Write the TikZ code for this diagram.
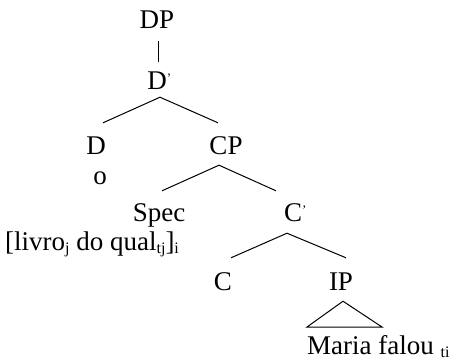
\documentclass[tikz,border=0pt]{standalone}
\usepackage{fontspec}
\setmainfont{Liberation Serif}
\usepackage{tikz}
\usetikzlibrary{positioning}

% bar mark and small index
\newcommand\barmark{\rlap{\raisebox{0.5ex}{\fontsize{13}{13}\selectfont ’}}}
\newcommand\lowidx[1]{\raisebox{-0.3ex}{\fontsize{16}{16}\selectfont #1}}

\begin{document}
\begin{tikzpicture}[x=1pt, y=-1pt,
	cat/.style={anchor=base, inner sep=0pt, text height=16pt, text depth=0pt,
		font=\fontsize{27}{31}\selectfont},
	phrase/.style={cat, anchor=base west},
	branch/.style={line width=1pt}]
	% page
	\useasboundingbox (0,0) rectangle (457,360);

	% the categories
	\node[cat] (DP) at (157,28) {DP};
	\node[cat] (Dbar) at (157,89) {D\barmark};
	\node[cat] (D) at (96,154) {D};
	\node[cat] (o) at (100,184) {o};
	\node[cat] (CP) at (226,154) {CP};
	\node[cat] (Spec) at (159,221) {Spec};
	\node[phrase] (spec-words) at (5,250) {[livro\lowidx{j} do qual\lowidx{tj}]\lowidx{i}};
	\node[cat] (Cbar) at (293,221) {C\barmark};
	\node[cat] (C) at (223,290) {C};
	\node[cat] (IP) at (341,290) {IP};
	\node[phrase] (ip-words) at (307,354) {Maria falou \lowidx{ti}};

	% the branches
	\draw[branch] ([shift={(1,13)}]DP.south) -- ([shift={(1,-11)}]Dbar.north);
	\draw[branch] ([shift={(7,-15)}]D.north) -- ([shift={(3,8)}]Dbar.south)
		-- ([shift={(-8,-15)}]CP.north);
	\draw[branch] ([shift={(3,-14)}]Spec.north) -- ([shift={(-7,11)}]CP.south)
		-- ([shift={(-17,-14)}]Cbar.north);
	\draw[branch] ([shift={(8,-16)}]C.north) -- ([shift={(-6,12)}]Cbar.south)
		-- ([shift={(5,-16)}]IP.north);
	% triangle over the IP words
	\draw[branch] ([shift={(2,11)}]IP.south) -- ([shift={(0,-27)}]ip-words.base west)
		-- ([shift={(75,-27)}]ip-words.base west) -- cycle;
\end{tikzpicture}
\end{document}
